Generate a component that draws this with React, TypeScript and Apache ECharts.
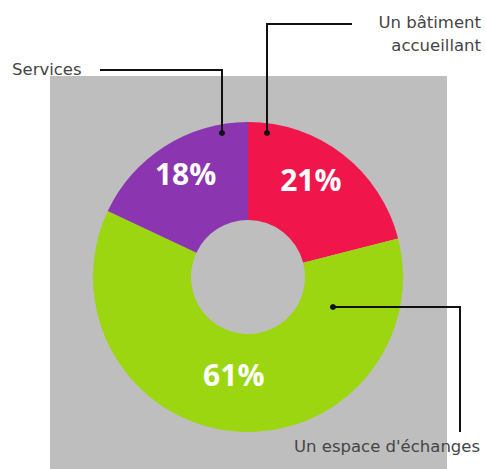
import React, { useEffect, useRef } from "react";
import * as echarts from "echarts";

const categories = ["Un bâtiment accueillant", "Un espace d'échanges", "Services"];
const values = [21, 61, 18];
const colors = ["#F0164B", "#9BD611", "#8B36B0"];

export default function App() {
  const ref = useRef<HTMLDivElement>(null);
  useEffect(() => {
    document.body.style.margin = "0";
    const chart = echarts.init(ref.current!, null, { renderer: "svg" });
    const cx = 248;
    const cy = 277;
    const textStyle = { fill: "#454545", fontFamily: "DejaVu Sans", fontSize: 16.5 };
    const lineStyle = { stroke: "#111", lineWidth: 2, fill: null };
    const dot = (x: number, y: number) => ({ type: "circle", z: 100, shape: { cx: x, cy: y, r: 3 }, style: { fill: "#111" } });
    chart.setOption({
      animation: false,
      backgroundColor: "#ffffff",
      graphic: [
        { type: "rect", z: -10, shape: { x: 50, y: 76, width: 397, height: 393 }, style: { fill: "#BEBEBE" } },
        { type: "polyline", z: 100, shape: { points: [[100, 70], [222, 70], [222, 133]] }, style: lineStyle },
        dot(222, 133),
        { type: "polyline", z: 100, shape: { points: [[352, 24], [267, 24], [267, 133]] }, style: lineStyle },
        dot(267, 133),
        { type: "polyline", z: 100, shape: { points: [[333, 307], [460, 307], [460, 432]] }, style: lineStyle },
        dot(333, 307),
        { type: "text", z: 100, x: 12, y: 69, style: { ...textStyle, text: categories[2], textVerticalAlign: "middle" } },
        { type: "text", z: 100, x: 481, y: 22, style: { ...textStyle, text: "Un bâtiment", textAlign: "right", textVerticalAlign: "middle" } },
        { type: "text", z: 100, x: 481, y: 45, style: { ...textStyle, text: "accueillant", textAlign: "right", textVerticalAlign: "middle" } },
        { type: "text", z: 100, x: 294, y: 446, style: { ...textStyle, text: categories[1], textVerticalAlign: "middle" } },
      ],
      series: [
        {
          type: "pie",
          center: [cx, cy],
          radius: [57, 155],
          startAngle: 90,
          clockwise: true,
          avoidLabelOverlap: false,
          label: {
            show: true,
            position: "inside",
            formatter: "{c}%",
            color: "#ffffff",
            fontFamily: "Open Sans",
            fontWeight: "bold",
            fontSize: 30,
            offset: [-4, -11],
          },
          labelLine: { show: false },
          emphasis: { disabled: true },
          itemStyle: { borderWidth: 0 },
          data: categories.map((name, i) => ({ name, value: values[i], itemStyle: { color: colors[i] } })),
        },
      ],
    });
    return () => chart.dispose();
  }, []);
  return <div ref={ref} style={{ width: 486, height: 469 }} />;
}
